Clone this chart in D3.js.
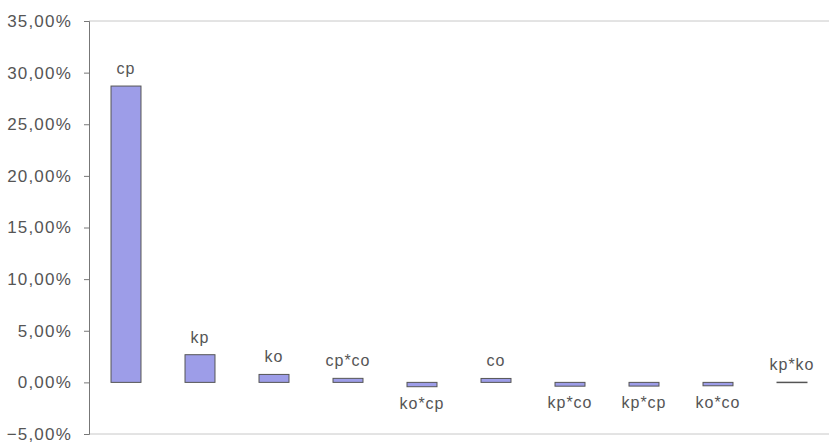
<!DOCTYPE html>
<html><head><meta charset="utf-8">
<script src="https://cdn.jsdelivr.net/npm/d3@7"></script>
<style>body{margin:0;background:#fff}svg{display:block}
text{font-family:'Liberation Sans',Arial,sans-serif}</style>
</head><body>
<svg id="c" width="829" height="445"></svg>
<script>
const categories = ["cp","kp","ko","cp*co","ko*cp","co","kp*co","kp*cp","ko*co","kp*ko"];
const values = [28.7, 2.68, 0.77, 0.39, -0.42, 0.38, -0.37, -0.36, -0.33, 0.02];
const yTicks = [-5,0,5,10,15,20,25,30,35];

const svg = d3.select("#c");
const mLeft = 89, mRight = 829, mTop = 21, mBottom = 434;
const x = d3.scaleBand().domain(categories).range([mLeft, mRight]).paddingInner(0.595).paddingOuter(0.2975);
const y = d3.scaleLinear().domain([-5, 35]).range([mBottom, mTop]);
const fmt = v => d3.format(".2f")(v).replace(".", ",") + "%";

svg.append("line").attr("x1", mLeft).attr("x2", mRight).attr("y1", y(35)).attr("y2", y(35))
  .attr("stroke", "#c8c8c8").attr("stroke-width", 1);
svg.append("line").attr("x1", mLeft).attr("x2", mRight).attr("y1", y(-5)).attr("y2", y(-5))
  .attr("stroke", "#c8c8c8").attr("stroke-width", 1);

const yAxis = d3.axisLeft(y).tickValues(yTicks).tickFormat(fmt).tickSize(5).tickPadding(12);
const gy = svg.append("g").attr("transform", `translate(${mLeft},0)`).call(yAxis);
gy.attr("font-family", null);
gy.select(".domain").attr("stroke", "#777");
gy.selectAll(".tick line").attr("stroke", "#777");
gy.selectAll(".tick text").attr("fill", "#555")
  .style("font-size", "17px").style("letter-spacing", "1.2px");

const data = categories.map((c, i) => ({c, v: values[i]}));
svg.append("g").selectAll("rect").data(data).join("rect")
  .attr("x", d => x(d.c)).attr("width", x.bandwidth())
  .attr("y", d => y(Math.max(0, d.v)))
  .attr("height", d => Math.max(0.5, Math.abs(y(d.v) - y(0))))
  .attr("fill", d => Math.abs(d.v) < 0.1 ? "none" : "#9d9de8")
  .attr("stroke", "#555").attr("stroke-width", 1);

svg.append("g").selectAll("text").data(data).join("text")
  .attr("x", d => x(d.c) + x.bandwidth() / 2)
  .attr("y", d => d.v >= 0 ? y(d.v) - 12 : y(d.v) + 22)
  .attr("text-anchor", "middle")
  .style("font-size", "16px").style("letter-spacing", "1px")
  .attr("fill", "#555")
  .text(d => d.c);
</script>
</body></html>
